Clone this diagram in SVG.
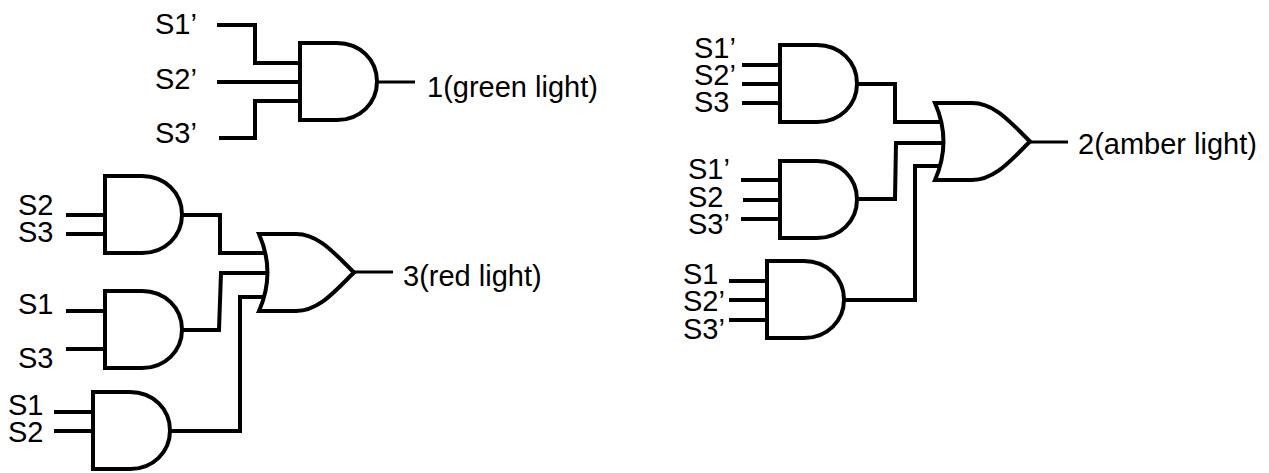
<svg xmlns="http://www.w3.org/2000/svg" width="1269" height="473" viewBox="0 0 1269 473">
<style>
.g{fill:none;stroke:#000;stroke-width:4;stroke-linejoin:miter}
.w{fill:none;stroke:#000;stroke-width:4;stroke-linejoin:miter}
.o{fill:none;stroke:#000;stroke-width:3}
text{font-family:"Liberation Sans",Arial,sans-serif;font-size:29px;fill:#000}
</style>
<rect width="1269" height="473" fill="#fff"/>
<defs>
<path id="and" class="g" d="M0 0H37C60 0 77 17 77 38.500S60 77 37 77H0Z"/>
<path id="or" class="g" d="M0 0H37C60 0 76 20 95 38.500C76 57 60 77 37 77H0C11 52 11 25 0 0Z"/>
</defs>
<g id="connectors">
<path class="w" d="M217 25H255V63H300M217 82H300M219 138H255V101H300"/><path class="o" d="M377 82H415"/>
<path class="w" d="M66 215H105M66 234H105M183 215H220V253H266"/>
<path class="w" d="M66 311H105M66 349H105M183 330H219L221 273H268"/>
<path class="w" d="M54 412H93M54 431H93"/><path class="w" d="M170 431H240V297H265"/>
<path class="o" d="M354 272H393"/>
<path class="w" d="M742 65H780M742 84H780M742 103H780M857 84H895V122H940"/>
<path class="w" d="M741 180H780M743 200H780M741 219H780M857 199H895L896 143H942"/>
<path class="w" d="M729 281H767M729 300H767M729 320H767M845 300H915V166H939"/>
<path class="o" d="M1030 142H1068"/>
</g>
<g id="and-green"><use href="#and" x="300" y="43"/></g>
<g id="and-red-1"><use href="#and" x="105" y="176"/></g>
<g id="and-red-2"><use href="#and" x="105" y="291"/></g>
<g id="and-red-3"><use href="#and" x="93" y="392"/></g>
<g id="or-red"><use href="#or" x="259" y="234"/></g>
<g id="and-amber-1"><use href="#and" x="780" y="45"/></g>
<g id="and-amber-2"><use href="#and" x="780" y="161"/></g>
<g id="and-amber-3"><use href="#and" x="767" y="261"/></g>
<g id="or-amber"><use href="#or" x="935" y="103"/></g>
<g id="labels">
<text x="155" y="34">S1’</text><text x="155" y="89">S2’</text><text x="155" y="143">S3’</text>
<text x="427" y="97">1(green light)</text>
<text x="18" y="215">S2</text><text x="18" y="242">S3</text>
<text x="18" y="314">S1</text><text x="18" y="368">S3</text>
<text x="8" y="415">S1</text><text x="8" y="442">S2</text>
<text x="403" y="286">3(red light)</text>
<text x="694" y="58">S1’</text><text x="694" y="85">S2’</text><text x="694" y="112">S3</text>
<text x="688" y="179">S1’</text><text x="688" y="207">S2</text><text x="688" y="234">S3’</text>
<text x="683" y="284">S1</text><text x="683" y="311">S2’</text><text x="683" y="339">S3’</text>
<text x="1078" y="154">2(amber light)</text>
</g>
</svg>
